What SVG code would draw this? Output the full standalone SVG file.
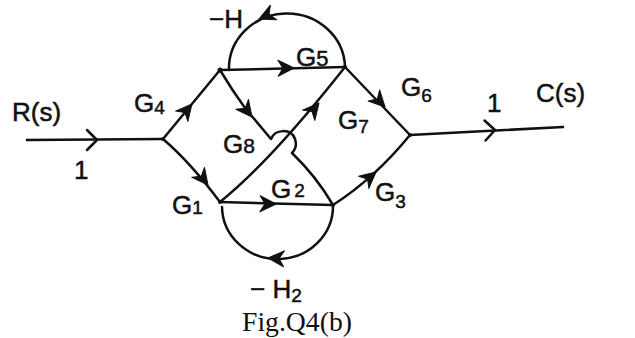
<svg xmlns="http://www.w3.org/2000/svg" xmlns:xlink="http://www.w3.org/1999/xlink" width="635" height="338" viewBox="0 0 635 338">
<style>
.e{fill:none;stroke:#111;stroke-width:2.5;stroke-linecap:round;stroke-linejoin:round}
.ah{fill:#111;stroke:#111;stroke-width:1;stroke-linejoin:round}
.ch{fill:none;stroke:#111;stroke-width:2.5;stroke-linecap:round;stroke-linejoin:round}
.lb{font-family:"Liberation Sans","DejaVu Sans",sans-serif;font-size:26px;fill:#111;stroke:#111;stroke-width:0.5}
.sb{font-size:19px}
.nd{fill:#111}
.cap{font-family:"Liberation Serif","DejaVu Serif",serif;font-size:27px;fill:#111}
</style>
<defs>
<path id="ah" d="M0,0 L-16,-8 L-11,0 L-16,8 Z"/>
<path id="ch" d="M-10,-10 L0,0 L-10,10"/>
</defs>
<rect width="635" height="338" fill="#fff"/>
<g id="connectors">
<path class="e" d="M27,140 L163,139"/>
<path class="e" d="M163,139 L220,70"/>
<path class="e" d="M163,139 Q190,162 220,202"/>
<path class="e" d="M220,70 L345,67"/>
<path class="e" d="M345,67 L410,135"/>
<path class="e" d="M410,135 L563,127"/>
<path class="e" d="M220,202 L333,205"/>
<path class="e" d="M333,205 Q375,178 410,135"/>
<path class="e" d="M220,202 Q270,162 345,67"/>
<path class="e" d="M220,70 Q232,90 245,108 L271,139 C275,129 291,128 295,139 C297,145 295,150 292,153 Q316,176 333,205"/>
<path class="e" d="M345,67 A58 55 0 0 0 229,70"/>
<path class="e" d="M333,205 A55.5 53 0 0 1 222,207"/>
<use xlink:href="#ch" class="ch" transform="translate(97,140)"/>
<use xlink:href="#ch" class="ch" transform="translate(495,130) rotate(-3)"/>
<use xlink:href="#ah" class="ah" transform="translate(192,104) rotate(-50)"/>
<use xlink:href="#ah" class="ah" transform="translate(208,185) rotate(52)"/>
<use xlink:href="#ah" class="ah" transform="translate(294,68) rotate(-1)"/>
<use xlink:href="#ah" class="ah" transform="translate(385,107) rotate(46)"/>
<use xlink:href="#ah" class="ah" transform="translate(276,204) rotate(1)"/>
<use xlink:href="#ah" class="ah" transform="translate(376,172) rotate(-40)"/>
<use xlink:href="#ah" class="ah" transform="translate(319,103) rotate(-50)"/>
<use xlink:href="#ah" class="ah" transform="translate(252,117) rotate(52)"/>
<use xlink:href="#ah" class="ah" transform="translate(259,19) rotate(156)"/>
<use xlink:href="#ah" class="ah" transform="translate(268,258) rotate(183)"/>
</g>
<g id="n_in"><circle class="nd" cx="27" cy="140" r="1.2"/></g>
<g id="n_a"><circle class="nd" cx="163" cy="139" r="2"/></g>
<g id="n_b"><circle class="nd" cx="220" cy="70" r="2.5"/></g>
<g id="n_c"><circle class="nd" cx="345" cy="67" r="2"/></g>
<g id="n_d"><circle class="nd" cx="410" cy="135" r="2"/></g>
<g id="n_e"><circle class="nd" cx="220" cy="202" r="2"/></g>
<g id="n_f"><circle class="nd" cx="333" cy="205" r="2"/></g>
<g id="n_out"><circle class="nd" cx="563" cy="127" r="1.2"/></g>
<g id="labels">
<text class="lb" x="12" y="121">R(s)</text>
<text class="lb" x="74" y="179">1</text>
<text class="lb" x="134" y="112">G<tspan class="sb" dy="2">4</tspan></text>
<text class="lb" x="209" y="28">−H</text>
<text class="lb" x="296" y="66">G<tspan style="font-size:22px">5</tspan></text>
<text class="lb" x="401" y="96">G<tspan class="sb" dy="6">6</tspan></text>
<text class="lb" x="338" y="129">G<tspan class="sb" dy="4">7</tspan></text>
<text class="lb" x="223" y="153">G<tspan style="font-size:21px">8</tspan></text>
<text class="lb" x="172" y="214">G<tspan class="sb">1</tspan></text>
<text class="lb" x="271" y="198">G<tspan class="sb" dx="3" dy="-1">2</tspan></text>
<text class="lb" x="375" y="201">G<tspan class="sb" dy="7">3</tspan></text>
<text class="lb" x="250" y="298">− H<tspan class="sb" dy="4">2</tspan></text>
<text class="lb" x="487" y="112">1</text>
<text class="lb" x="536" y="102">C(s)</text>
</g>
<text class="cap" x="242" y="331" textLength="110" lengthAdjust="spacingAndGlyphs">Fig.Q4(b)</text>
</svg>
